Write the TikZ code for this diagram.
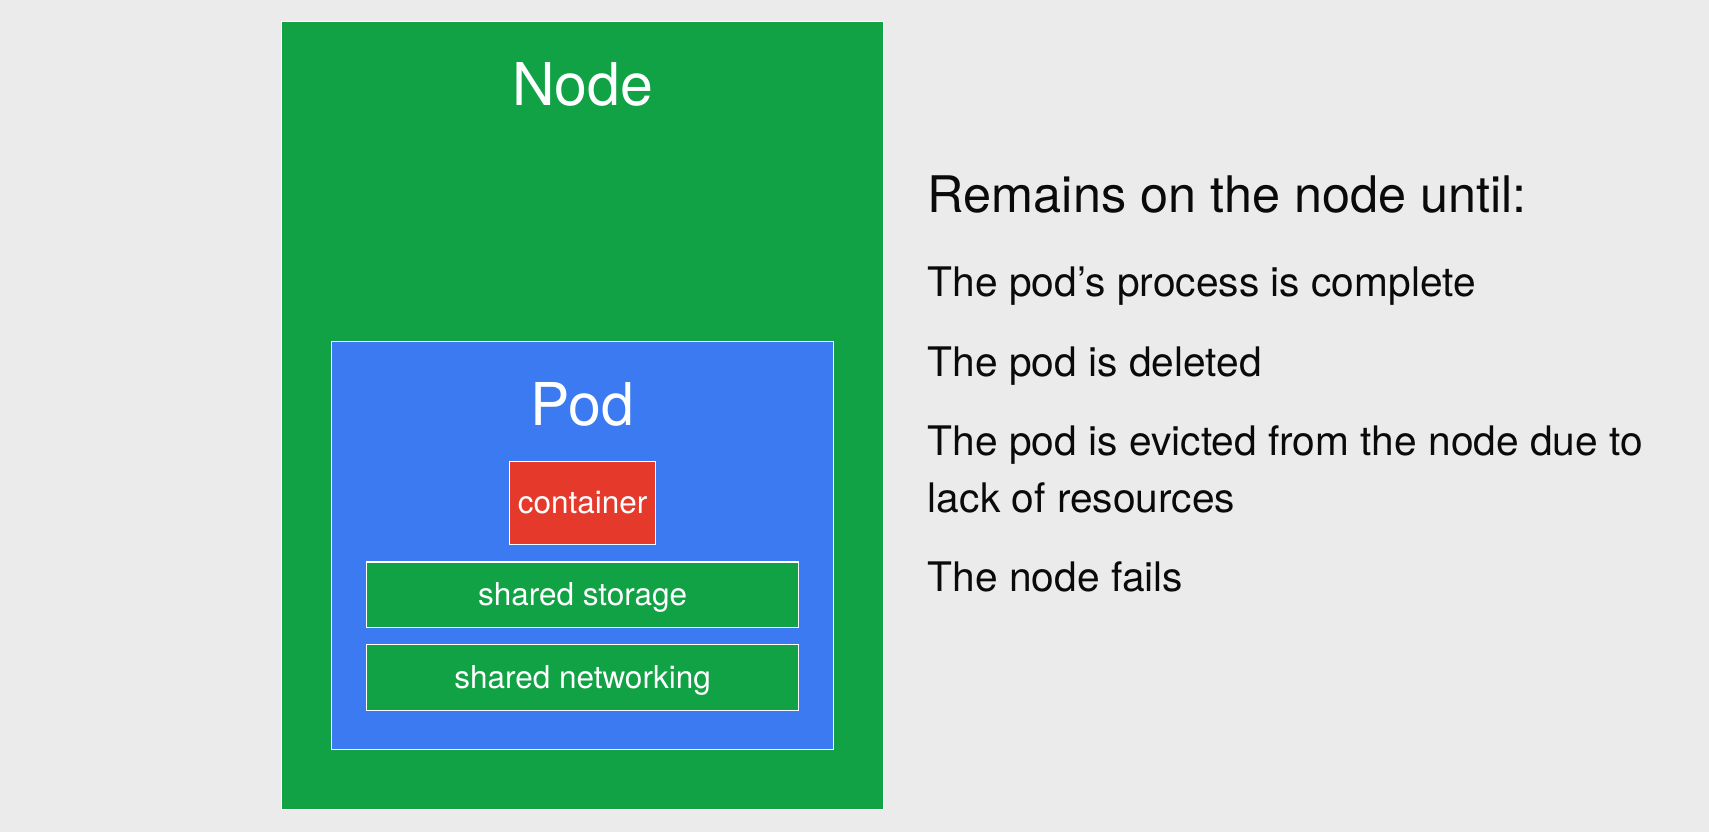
\documentclass[tikz,border=0pt]{standalone}
\usepackage{fontspec}
\setmainfont{TeX Gyre Heros}
\definecolor{bg}{HTML}{EBEBEB}
\definecolor{nodegreen}{HTML}{10A244}
\definecolor{podblue}{HTML}{3B7AF0}
\definecolor{contred}{HTML}{E5392C}
\definecolor{ink}{HTML}{0A0A0A}
\begin{document}
\begin{tikzpicture}[x=1pt,y=-1pt,
  box/.style={draw=white, line width=1.2pt, inner sep=0pt, anchor=north west},
  biglbl/.style={text=white, inner sep=0pt, anchor=base, font=\fontsize{59}{62}\selectfont},
  smalllbl/.style={text=white, inner sep=0pt, anchor=base, font=\fontsize{31.5}{33}\selectfont},
  headtxt/.style={text=ink, inner sep=0pt, anchor=base west, font=\fontsize{50.4}{53}\selectfont},
  itemtxt/.style={text=ink, inner sep=0pt, anchor=base west, font=\fontsize{40.7}{43}\selectfont}
]
\fill[bg] (0,0) rectangle (1709,832);
\useasboundingbox (0,0) rectangle (1709,832);

\node[box, fill=nodegreen, minimum width=602pt, minimum height=788pt] (node) at (281,20.7) {};
\node[box, fill=podblue, minimum width=501.7pt, minimum height=407.8pt] (pod) at (331,341) {};
\node[box, fill=contred, minimum width=146pt, minimum height=83.3pt] (cont) at (509,460.7) {};
\node[box, fill=nodegreen, minimum width=431.6pt, minimum height=65.4pt] (stor) at (366.2,561.3) {};
\node[box, fill=nodegreen, minimum width=431.6pt, minimum height=65.4pt] (net) at (366.2,644.1) {};

\node[biglbl] (nodelbl) at (node.north |- 0,106) {Node};
\node[biglbl] (podlbl) at (pod.north |- 0,425) {Pod};
\node[smalllbl] (contlbl) at ([yshift=-11pt]cont.center) {container};
\node[smalllbl] (storlbl) at ([yshift=-11pt]stor.center) {shared storage};
\node[smalllbl] (netlbl) at ([yshift=-11pt]net.center) {shared networking};

\node[headtxt] (head) at (927.7,212.7) {Remains on the node until:};
\node[itemtxt] (i1) at (927.7,296.7) {The pod’s process is complete};
\node[itemtxt] (i2) at (927.7,376) {The pod is deleted};
\node[itemtxt] (i3) at (927.7,455.6) {The pod is evicted from the node due to};
\node[itemtxt] (i3b) at (927.7,512.3) {lack of resources};
\node[itemtxt] (i4) at (927.7,591.8) {The node fails};
\end{tikzpicture}
\end{document}
